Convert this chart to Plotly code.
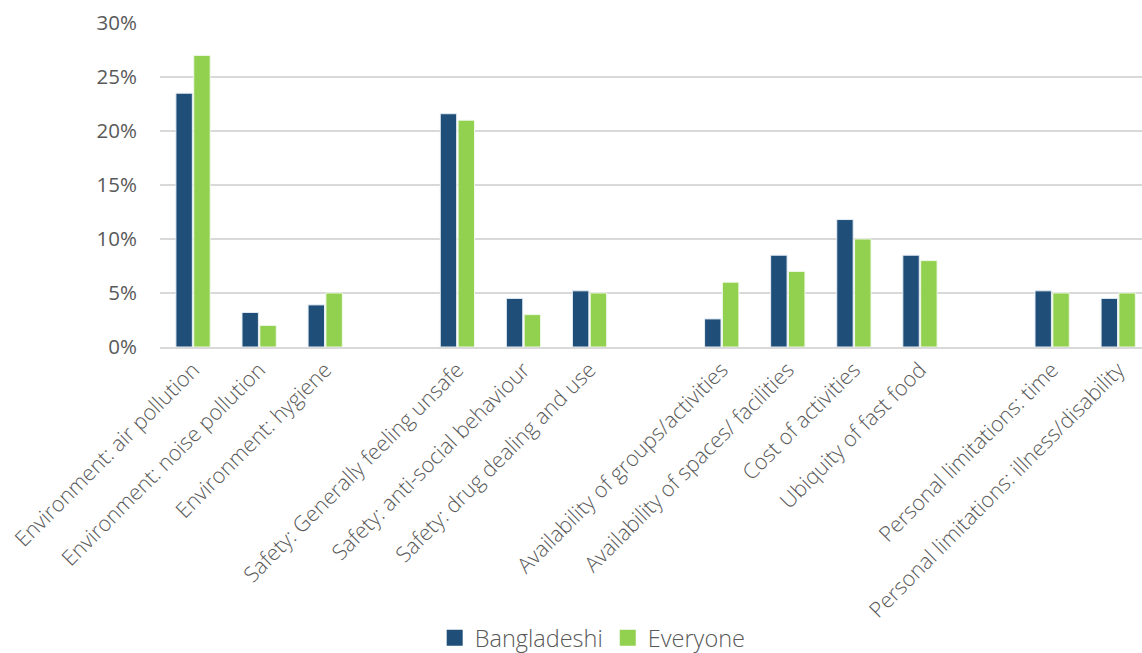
import plotly.graph_objects as go

# Barriers to physical activity, share of respondents
categories = [
    "Environment: air pollution",
    "Environment: noise pollution",
    "Environment: hygiene",
    "Safety: Generally feeling unsafe",
    "Safety: anti-social behaviour",
    "Safety: drug dealing and use",
    "Availability of groups/activities",
    "Availability of spaces/ facilities",
    "Cost of activities",
    "Ubiquity of fast food",
    "Personal limitations: time",
    "Personal limitations: illness/disability",
]
# slot positions on the axis (gaps separate the theme groups)
positions = [0, 1, 2, 4, 5, 6, 8, 9, 10, 11, 13, 14]

bangladeshi = [23.5, 3.2, 3.9, 21.6, 4.5, 5.2, 2.6, 8.5, 11.8, 8.5, 5.2, 4.5]
everyone = [27, 2, 5, 21, 3, 5, 6, 7, 10, 8, 5, 5]

y_ticks = [0, 5, 10, 15, 20, 25, 30]
y_tick_labels = ["0%", "5%", "10%", "15%", "20%", "25%", "30%"]

series_names = ["Bangladeshi", "Everyone"]
series_colors = ["#1F4E79", "#92D050"]
edge_colors = ["#E6EEF5", "#F0F8E8"]

font_family = "Open Sans, Noto Sans, sans-serif"
text_color = "#595959"

fig = go.Figure()
for name, values, color, edge in zip(series_names, [bangladeshi, everyone],
                                     series_colors, edge_colors):
    fig.add_trace(go.Bar(
        name=name, x=positions, y=values, showlegend=False,
        marker=dict(color=color, line=dict(color=edge, width=1)),
    ))

# legend entries with larger square swatches
for name, color in zip(series_names, series_colors):
    fig.add_trace(go.Scatter(
        name=name, x=[None], y=[None], mode="markers",
        marker=dict(symbol="square", size=16, color=color),
        showlegend=True,
    ))

fig.update_layout(
    width=1142, height=653,
    margin=dict(l=160, r=0, t=23, b=306, autoexpand=False),
    paper_bgcolor="white", plot_bgcolor="white",
    barmode="group", bargap=0.46, bargroupgap=0.08,
    font=dict(family=font_family, color=text_color),
    showlegend=True,
    legend=dict(
        orientation="h", xref="container", x=0.519, xanchor="center",
        yref="container", y=0.023, yanchor="middle",
        font=dict(size=23.5, color=text_color, weight=300), itemwidth=30,
        traceorder="normal", itemsizing="trace",
    ),
    xaxis=dict(
        range=[-0.5, 14.36],
        tickmode="array", tickvals=positions, ticktext=categories,
        tickangle=-45, tickfont=dict(size=21.5, color=text_color, weight=300),
        showgrid=False, showline=True, linecolor="#D9D9D9", linewidth=1.5,
        ticks="", zeroline=False,
    ),
    yaxis=dict(
        range=[0, 30],
        tickmode="array", tickvals=y_ticks, ticktext=y_tick_labels,
        tickfont=dict(size=20.5, color=text_color),
        showgrid=True, gridcolor="#D9D9D9", gridwidth=1.5,
        zeroline=False, showline=False, ticks="", ticklen=0,
    ),
)
fig.update_yaxes(ticklabelstandoff=22)

fig.write_html("out.html")
